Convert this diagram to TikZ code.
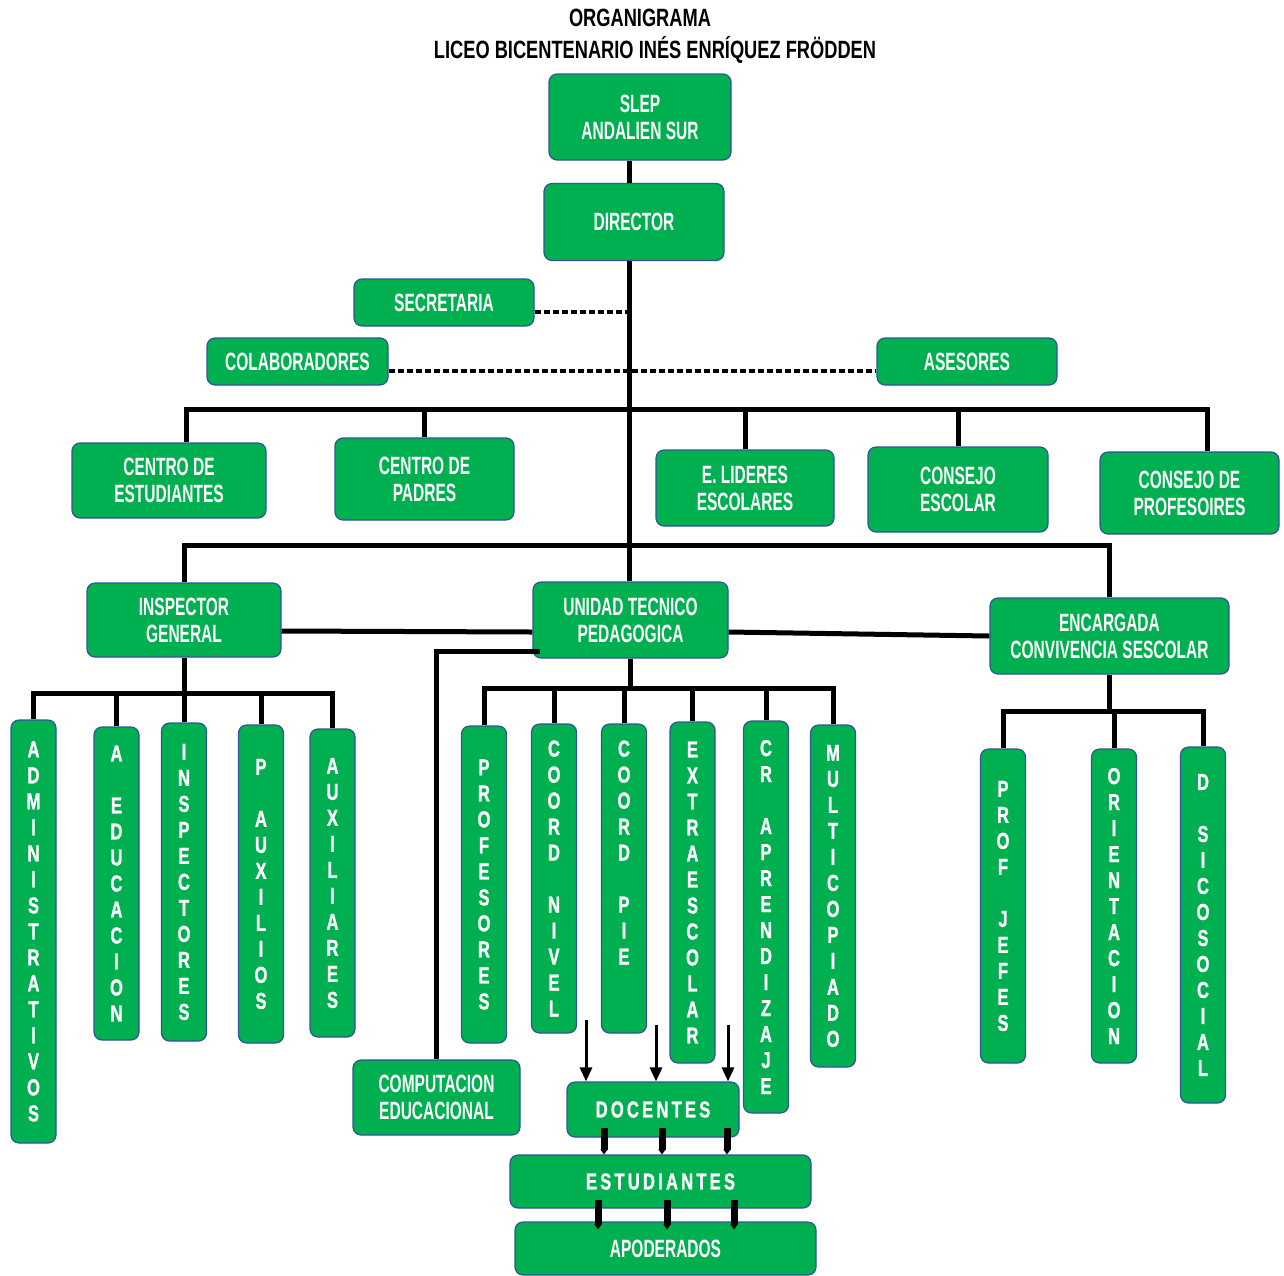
\documentclass[tikz,border=0pt]{standalone}
\usepackage{fontspec}
\setmainfont{Liberation Sans}
\newfontfamily\headfont[FakeStretch=0.73]{Liberation Sans}
\newfontfamily\boxfont[FakeStretch=0.62]{Liberation Sans}
\newfontfamily\letfont[FakeStretch=0.72,FakeBold=1.2]{Liberation Sans}
\usetikzlibrary{arrows.meta}
\definecolor{boxgreen}{HTML}{00B050}
\definecolor{boxedge}{HTML}{2F5597}
\begin{document}
\begin{tikzpicture}[x=1pt, y=-1pt,
    unit/.style={draw=boxedge, line width=1.2pt, fill=boxgreen, rounded corners=8pt, text=white, align=center, inner sep=2pt, font=\boxfont\bfseries\fontsize{25}{27}\selectfont},
    vunit/.style={unit, minimum width=45, font=\letfont\bfseries\fontsize{23}{26}\selectfont},
    spaced/.style={unit, font=\letfont\bfseries\fontsize{23}{26}\selectfont\addfontfeature{LetterSpace=14}},
    head/.style={font=\headfont\bfseries\fontsize{25}{27}\selectfont},
    link/.style={line width=5pt},
    dots/.style={line width=4pt, dash pattern=on 6pt off 3pt},
    feed/.style={line width=3pt, -{Triangle[width=12pt,length=14pt]}},
    fat/.style={line width=7pt, -{Triangle[width=7pt,length=5pt]}},
]
\useasboundingbox (0,0) rectangle (1284,1275);
\node[head] (ttl) at (640,18) {ORGANIGRAMA};
\node[head] (sub) at (655,50) {LICEO BICENTENARIO INÉS ENRÍQUEZ FRÖDDEN};

\node[unit, minimum width=182, minimum height=86] (slep) at (640,117) {SLEP\\ANDALIEN SUR};
\node[unit, minimum width=180, minimum height=77] (dir) at (634,222) {DIRECTOR};
\node[unit, minimum width=180, minimum height=47] (sec) at (444,302.5) {SECRETARIA};
\node[unit, minimum width=181, minimum height=47] (colab) at (297.5,361.5) {COLABORADORES};
\node[unit, minimum width=180, minimum height=47] (ases) at (967,361.5) {ASESORES};
\node[unit, minimum width=194, minimum height=75] (cest) at (169,480.5) {CENTRO DE\\ESTUDIANTES};
\node[unit, minimum width=179, minimum height=82] (cpad) at (424.5,479) {CENTRO DE\\PADRES};
\node[unit, minimum width=178, minimum height=76] (elid) at (745,488) {E. LIDERES\\ESCOLARES};
\node[unit, minimum width=180, minimum height=85] (cesc) at (958,489.5) {CONSEJO\\ESCOLAR};
\node[unit, minimum width=179, minimum height=82] (cprof) at (1189.5,493) {CONSEJO DE\\PROFESOIRES};
\node[unit, minimum width=194, minimum height=74] (insp) at (184,620) {INSPECTOR\\GENERAL};
\node[unit, minimum width=195, minimum height=76] (utp) at (630.5,620) {UNIDAD TECNICO\\PEDAGOGICA};
\node[unit, minimum width=239, minimum height=76] (enc) at (1109.5,636) {ENCARGADA\\CONVIVENCIA SESCOLAR};
\node[unit, minimum width=167, minimum height=75] (comp) at (436.5,1097.5) {COMPUTACION\\EDUCACIONAL};
\node[spaced, minimum width=172, minimum height=55] (doc) at (653,1109.5) {DOCENTES};
\node[spaced, minimum width=301, minimum height=53] (est) at (660.5,1181.5) {ESTUDIANTES};
\node[unit, minimum width=301, minimum height=53] (apod) at (665.5,1248.5) {APODERADOS};

\node[vunit, minimum height=423] (adm) at (33.5,931.5) {A\\D\\M\\I\\N\\I\\S\\T\\R\\A\\T\\I\\V\\O\\S};
\node[vunit, minimum height=313] (aedu) at (116.5,883.5) {A\\~\\E\\D\\U\\C\\A\\C\\I\\O\\N};
\node[vunit, minimum height=318] (insps) at (184,882) {I\\N\\S\\P\\E\\C\\T\\O\\R\\E\\S};
\node[vunit, minimum height=318] (paux) at (261,884) {P\\~\\A\\U\\X\\I\\L\\I\\O\\S};
\node[vunit, minimum height=308] (auxl) at (332.5,883) {A\\U\\X\\I\\L\\I\\A\\R\\E\\S};
\node[vunit, minimum height=317] (prof) at (484,884.5) {P\\R\\O\\F\\E\\S\\O\\R\\E\\S};
\node[vunit, minimum height=309] (cniv) at (554,878.5) {C\\O\\O\\R\\D\\~\\N\\I\\V\\E\\L};
\node[vunit, minimum height=309] (cpie) at (624,878.5) {C\\O\\O\\R\\D\\~\\P\\I\\E\\~\\~};
\node[vunit, minimum height=341] (extra) at (692.5,892.5) {E\\X\\T\\R\\A\\E\\S\\C\\O\\L\\A\\R};
\node[vunit, minimum height=392] (crap) at (766,917) {C\\R\\~\\A\\P\\R\\E\\N\\D\\I\\Z\\A\\J\\E};
\node[vunit, minimum height=342] (multi) at (833,896) {M\\U\\L\\T\\I\\C\\O\\P\\I\\A\\D\\O};
\node[vunit, minimum height=314] (pjef) at (1003,906) {P\\R\\O\\F\\~\\J\\E\\F\\E\\S};
\node[vunit, minimum height=314] (orie) at (1114,906) {O\\R\\I\\E\\N\\T\\A\\C\\I\\O\\N};
\node[vunit, minimum height=356] (dsic) at (1203,925) {D\\~\\S\\I\\C\\O\\S\\O\\C\\I\\A\\L};

\coordinate (tr) at ([xshift=-5pt]dir.south);
\draw[link] (tr |- slep.south) -- (tr |- dir.north);
\draw[link] (tr) -- (tr |- utp.north);
\draw[dots] ([yshift=-9pt]sec.east) -- ([yshift=-9pt]sec.east -| tr);
\draw[dots] ([yshift=-9pt]colab.east) -- ([yshift=-9pt]ases.west);

\coordinate (b1) at (tr |- 0,409);
\draw[link] ([xshift=17pt]cest.north) |- (b1) -| ([xshift=18pt]cprof.north);
\foreach \n in {cpad,elid,cesc}
  \draw[link] (\n.north) -- (\n.north |- b1);
\coordinate (b2) at (tr |- 0,545);
\draw[link] (insp.north) |- (b2) -| (enc.north);
\draw[link] ([yshift=-11pt]insp.east) -- ([yshift=-12pt]utp.west);
\draw[link] ([yshift=-12pt]utp.east) -- (enc.west);
\draw[link] ([xshift=8pt,yshift=7pt]utp.south west) -| (comp.north);

\coordinate (ib) at (insp.south |- 0,693);
\draw[link] (insp.south) -- (ib);
\draw[link] (adm.north) |- (ib) -| (auxl.north);
\foreach \n in {aedu,insps,paux}
  \draw[link] (\n.north) -- (\n.north |- ib);
\coordinate (ub) at (utp.south |- 0,688);
\draw[link] (utp.south) -- (ub);
\draw[link] (prof.north) |- (ub) -| (multi.north);
\foreach \n in {cniv,cpie,extra,crap}
  \draw[link] (\n.north) -- (\n.north |- ub);
\coordinate (eb) at (enc.south |- 0,711);
\draw[link] (enc.south) -- (eb);
\draw[link] (pjef.north) |- (eb) -| (dsic.north);
\draw[link] (orie.north) -- (orie.north |- eb);

\foreach \x/\y [count=\i] in {586/1020,656/1025,728/1025} {
  \coordinate (f\i) at (\x,\y);
  \draw[feed] (f\i) -- (f\i |- doc.north);
}
\foreach \x [count=\i] in {604,662,727} {
  \coordinate (d\i) at (\x,1128);
  \draw[fat] (d\i) -- (d\i |- est.north);
}
\foreach \x [count=\i] in {598,667,734} {
  \coordinate (e\i) at (\x,1200);
  \draw[fat] (e\i) -- ([yshift=-8pt]e\i |- apod.north);
}
\end{tikzpicture}
\end{document}
